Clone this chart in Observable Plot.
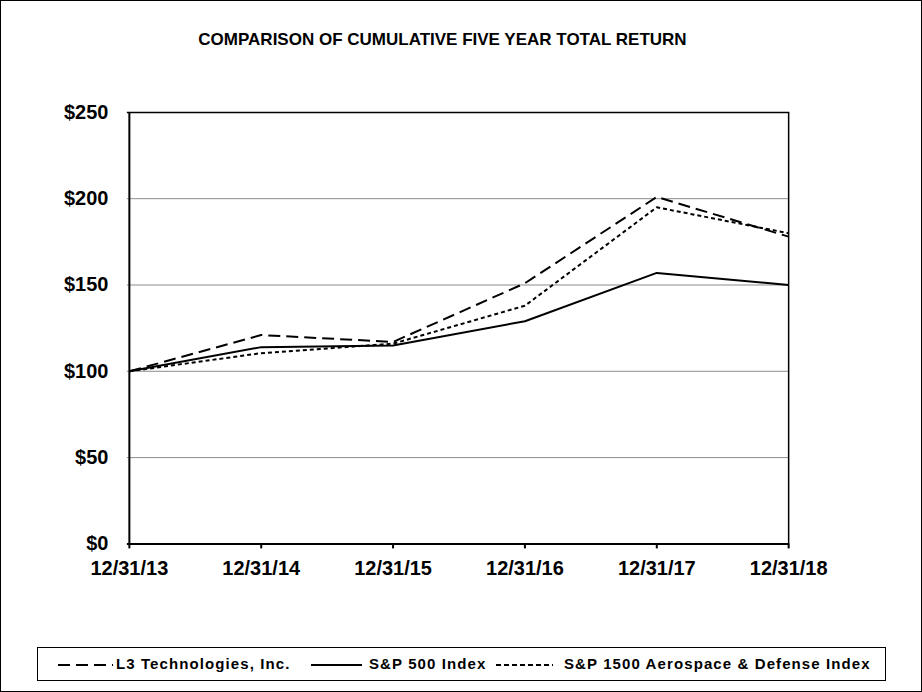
<!DOCTYPE html>
<html>
<head>
<meta charset="utf-8">
<script src="https://cdn.jsdelivr.net/npm/d3@7"></script>
<script src="https://cdn.jsdelivr.net/npm/@observablehq/plot@0.6"></script>
<style>
  html, body { margin: 0; padding: 0; background: white; }
  #wrap { position: relative; width: 922px; height: 692px; box-sizing: border-box; border: 1px solid black; background: white; overflow: hidden; font-family: "Liberation Sans", Arial, sans-serif; }
  #title { position: absolute; left: 0; top: 30px; width: 883px; text-align: center; font-weight: bold; font-size: 17px; line-height: 17px; color: black; }
  #chart { position: absolute; left: -1px; top: -1px; }
  #legend { position: absolute; left: 36px; top: 646px; width: 849px; height: 34px; box-sizing: border-box; border: 1px solid black; }
  #legend .lab { position: absolute; top: 8px; font-weight: bold; font-size: 15px; line-height: 15px; letter-spacing: 1.1px; white-space: nowrap; color: black; }
  #legend svg { position: absolute; left: 0; top: 0; }
</style>
</head>
<body>
<div id="wrap">
  <div id="title"></div>
  <div id="chart"></div>
  <div id="legend"></div>
</div>
<script>
const title = "COMPARISON OF CUMULATIVE FIVE YEAR TOTAL RETURN";
const dates = ["12/31/13", "12/31/14", "12/31/15", "12/31/16", "12/31/17", "12/31/18"];
const seriesNames = ["L3 Technologies, Inc.", "S&P 500 Index", "S&P 1500 Aerospace & Defense Index"];
const l3Values = [100, 121, 117, 151, 201, 178];
const sp500Values = [100, 114, 115, 129, 157, 150];
const aeroValues = [100, 110.5, 116, 138, 195, 180];
const yTicks = [0, 50, 100, 150, 200, 250];
const gridTicks = [50, 100, 150, 200];

const dashes = ["12,6", null, "4,3"];
const valueLists = [l3Values, sp500Values, aeroValues];

document.getElementById("title").textContent = title;

const rows = (vals) => vals.map((v, i) => ({date: dates[i], value: v}));

const lineMarks = valueLists.map((vals, k) =>
  Plot.line(rows(vals), {x: "date", y: "value", stroke: "black", strokeWidth: 2,
    strokeDasharray: dashes[k] ?? undefined, strokeLinejoin: "miter", strokeLinecap: "butt"})
);

const chart = Plot.plot({
  width: 922,
  height: 600,
  marginLeft: 127,
  marginRight: 132,
  marginTop: 112,
  marginBottom: 56,
  style: {fontFamily: "'Liberation Sans', Arial, sans-serif", fontSize: "20px", fontWeight: "bold", background: "transparent", overflow: "visible"},
  x: {type: "point", domain: dates, padding: 0},
  y: {domain: [0, 250]},
  marks: [
    Plot.ruleY(gridTicks, {stroke: "#8c8c8c", strokeWidth: 1}),
    ...lineMarks,
    Plot.ruleY([250], {stroke: "black", strokeWidth: 1.5}),
    Plot.ruleX([dates[dates.length - 1]], {y1: 0, y2: 250, stroke: "black", strokeWidth: 1.5}),
    Plot.ruleX([dates[0]], {y1: 0, y2: 250, stroke: "black", strokeWidth: 2}),
    Plot.ruleY([0], {stroke: "black", strokeWidth: 2}),
    Plot.axisX({tickSize: 5, tickPadding: 12, strokeWidth: 2, stroke: "black", fill: "black", label: null}),
    Plot.axisY({ticks: yTicks, tickFormat: d => "$" + d, tickSize: 0, tickPadding: 19, fill: "black", label: null})
  ]
});
document.getElementById("chart").appendChild(chart);

// legend
const legend = document.getElementById("legend");
const sampleX = [[20, 75], [273, 324], [458, 515]];
const labelX = [78, 331, 526];
const ns = "http://www.w3.org/2000/svg";
const lsvg = document.createElementNS(ns, "svg");
lsvg.setAttribute("width", 849);
lsvg.setAttribute("height", 34);
seriesNames.forEach((name, k) => {
  const ln = document.createElementNS(ns, "line");
  ln.setAttribute("x1", sampleX[k][0]);
  ln.setAttribute("x2", sampleX[k][1]);
  ln.setAttribute("y1", 17);
  ln.setAttribute("y2", 17);
  ln.setAttribute("stroke", "black");
  ln.setAttribute("stroke-width", 2);
  if (dashes[k]) ln.setAttribute("stroke-dasharray", k === 0 ? "12,6" : "5,3");
  lsvg.appendChild(ln);
  const s = document.createElement("span");
  s.className = "lab";
  s.style.left = labelX[k] + "px";
  s.textContent = name;
  legend.appendChild(s);
});
legend.appendChild(lsvg);
</script>
</body>
</html>
